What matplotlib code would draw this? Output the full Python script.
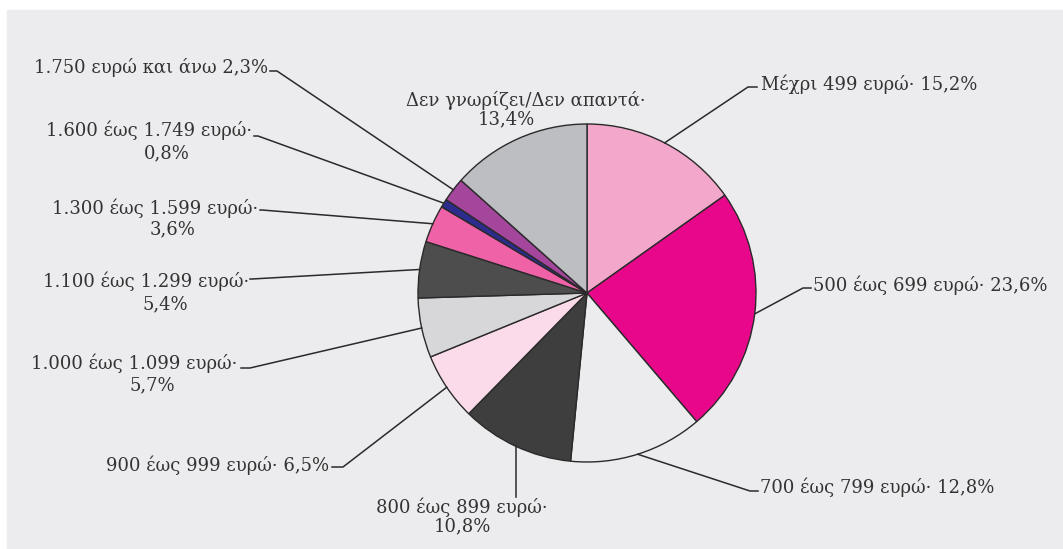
import matplotlib
matplotlib.use("Agg")
import matplotlib.pyplot as plt
from matplotlib.patches import Rectangle
import numpy as np

# income bands and shares (%)
categories = ["Μέχρι 499 ευρώ", "500 έως 699 ευρώ", "700 έως 799 ευρώ",
              "800 έως 899 ευρώ", "900 έως 999 ευρώ", "1.000 έως 1.099 ευρώ",
              "1.100 έως 1.299 ευρώ", "1.300 έως 1.599 ευρώ",
              "1.600 έως 1.749 ευρώ", "1.750 ευρώ και άνω",
              "Δεν γνωρίζει/Δεν απαντά"]
shares = [15.2, 23.6, 12.8, 10.8, 6.5, 5.7, 5.4, 3.6, 0.8, 2.3, 13.4]
colors = ["#f3a7ca", "#e8078b", "#ececee", "#3e3e3e", "#fbdbe9", "#d7d7d9",
          "#4d4d4d", "#ef62a7", "#2d2c8c", "#a4469c", "#bdbec2"]

W, H = 1063, 549
plt.rcParams["font.family"] = ["DejaVu Serif"]
txt = "#333333"
fs = 13

fig = plt.figure(figsize=(W / 100, H / 100), dpi=100)
fig.patch.set_facecolor("white")
ax = fig.add_axes([0, 0, 1, 1])
ax.set_xlim(0, W)
ax.set_ylim(0, H)
ax.set_aspect("equal")
ax.axis("off")


def Y(y):
    return H - y


def pct(v):
    return f"{v:.1f}".replace(".", ",") + "%"


# grey panel
ax.add_patch(Rectangle((7, 0), W - 7, H - 10, color="#ececee", zorder=0))

cx, cy, r = 587, 293, 169
wedges, _ = ax.pie(shares, colors=colors, startangle=90, counterclock=False,
                   center=(cx, Y(cy)), radius=r, frame=True,
                   wedgeprops=dict(edgecolor="#2a2a2a", linewidth=1.0))
ax.set_xlim(0, W)
ax.set_ylim(0, H)
ax.axis("off")


def edge(i):
    w = wedges[i]
    a = np.deg2rad((w.theta1 + w.theta2) / 2)
    return cx + r * np.cos(a), Y(cy) + r * np.sin(a)


def leader(i, pts):
    ex, ey = edge(i)
    xs = [ex] + [p[0] for p in pts]
    ys = [ey] + [Y(p[1]) for p in pts]
    ax.plot(xs, ys, color="#2a2a2a", lw=1.1, zorder=3)


# right side labels: one line, left aligned after the stub
leader(0, [(748, 87), (757, 87)])
ax.text(761, Y(90), f"{categories[0]}· {pct(shares[0])}", ha="left",
        va="baseline", fontsize=fs, color=txt)

leader(1, [(803, 288), (811, 288)])
ax.text(813, Y(291), f"{categories[1]}· {pct(shares[1])}", ha="left",
        va="baseline", fontsize=fs, color=txt)

leader(2, [(750, 491), (758, 491)])
ax.text(760, Y(493), f"{categories[2]}· {pct(shares[2])}", ha="left",
        va="baseline", fontsize=fs, color=txt)

# bottom label
leader(3, [(edge(3)[0], 497)])
ax.text(462, Y(513), f"{categories[3]}·", ha="center", va="baseline",
        fontsize=fs, color=txt)
ax.text(462, Y(531), pct(shares[3]), ha="center", va="baseline",
        fontsize=fs, color=txt)

# left side labels
leader(4, [(343, 467), (332, 467)])
ax.text(329, Y(471), f"{categories[4]}· {pct(shares[4])}", ha="right",
        va="baseline", fontsize=fs, color=txt)

left = [
    (5, [(250, 368), (241, 368)], 237, 369, 152, 390),
    (6, [(252, 279), (250, 279)], 249, 287, 165, 309),
    (7, [(262, 210), (260, 210)], 258, 214, 173, 234),
    (8, [(258, 136), (254, 136)], 252, 136, 167, 158),
]
for i, pts, tx, ty, px, py in left:
    leader(i, pts)
    ax.text(tx, Y(ty), f"{categories[i]}·", ha="right", va="baseline",
            fontsize=fs, color=txt)
    ax.text(px, Y(py), pct(shares[i]), ha="center", va="baseline",
            fontsize=fs, color=txt)

leader(9, [(277, 71), (270, 71)])
ax.text(268, Y(73), f"{categories[9]} {pct(shares[9])}", ha="right",
        va="baseline", fontsize=fs, color=txt)

# top label, no leader
ax.text(526, Y(106), f"{categories[10]}·", ha="center", va="baseline",
        fontsize=fs, color=txt)
ax.text(506, Y(124), pct(shares[10]), ha="center", va="baseline",
        fontsize=fs, color=txt)

fig.savefig("out.png", dpi=100, facecolor="white")
